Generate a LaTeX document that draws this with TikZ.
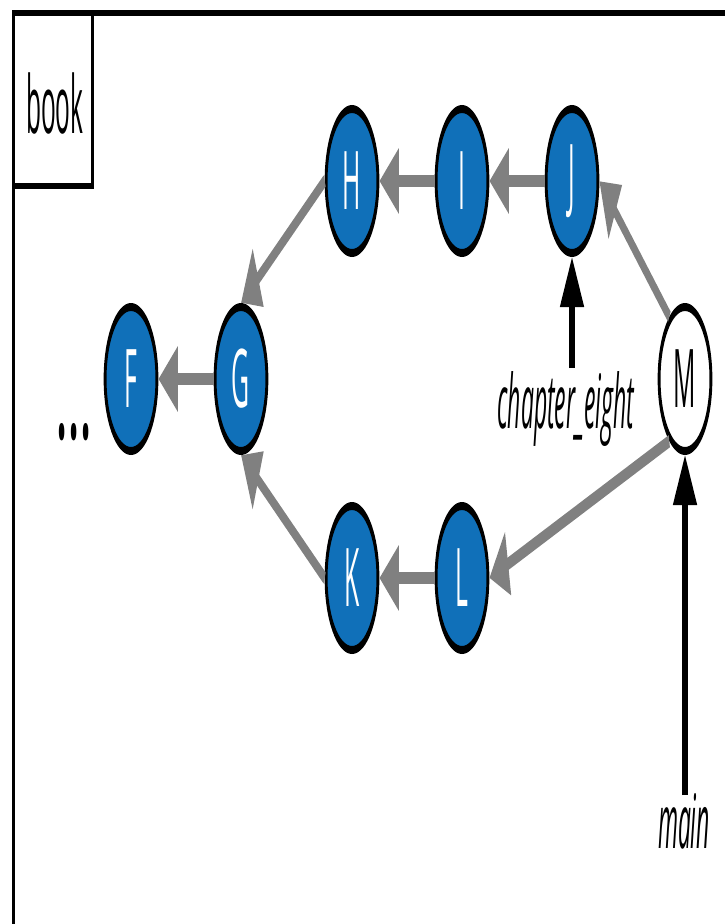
\documentclass[tikz,border=0pt]{standalone}
\usepackage{fontspec}
\setmainfont{Open Sans}[FakeStretch=0.85]
\usetikzlibrary{arrows.meta}
\definecolor{nodeblue}{RGB}{16,112,185}
\definecolor{edgegray}{RGB}{128,128,128}
\tikzset{
  commit/.style={circle, minimum size=144pt, inner sep=0pt, draw=black, line width=8pt,
    fill=nodeblue, text=white, font=\fontsize{81}{81}\selectfont},
  tipcommit/.style={commit, fill=white, text=black},
  parent/.style={draw=edgegray, line width=12.5pt, -{Triangle[length=54pt,width=62pt]}},
  refarrow/.style={draw=black, line width=14pt, -{Triangle[length=50pt,width=64pt]}},
  reflabel/.style={font=\fontsize{75}{75}\selectfont\itshape, anchor=base, inner sep=0pt},
  thickrule/.style={line width=6pt},
  thinrule/.style={line width=3pt}
}
\begin{document}
\begin{tikzpicture}[x=1pt,y=-1pt]
\useasboundingbox (0,0) rectangle (725,924);
% frame
\draw[thickrule] (12,13) -- (725,13);
\draw[thinrule] (13.5,10) -- (13.5,924);
\draw[thinrule] (92.5,13) -- (92.5,189);
\draw[thickrule] (12,186) -- (94,186);
\begin{scope}[transform canvas={xscale=0.36}]
  \node[anchor=base, inner sep=0pt, font=\fontsize{80}{80}\selectfont] (book) at (152,133) {book};
  \node[commit] (F) at (363.9,379) {F};
  \node[commit] (G) at (669.4,379) {G};
  \node[commit] (H) at (977.8,181) {H};
  \node[commit] (I) at (1283.3,181) {I};
  \node[commit] (J) at (1588.9,181) {J};
  \node[commit] (K) at (977.8,578) {K};
  \node[commit] (L) at (1283.3,578) {L};
  \node[tipcommit] (M) at (1902.8,379) {M};
  \node[anchor=base, inner sep=0pt, font=\fontsize{105}{105}\selectfont\bfseries] (dots) at (205.6,439) {.\kern9pt.\kern9pt.};
  \node[reflabel] (ce) at (1572.2,428) {chapter\_eight};
  \node[reflabel] (mainlbl) at (1900,848) {main};
  \coordinate (ceTop) at (1588.9,368);
  \coordinate (mainTop) at (1902.8,795);
  % parent links
  \draw[parent] (J) -- (I);
  \draw[parent] (I) -- (H);
  \draw[parent] (H.west) -- (G.north);
  \draw[parent] (G) -- (F);
  \draw[parent] (K.west) -- (G.south);
  \draw[parent] (L) -- (K);
  \draw[parent] (M.125) -- (J.east);
  \draw[parent] (M.235) -- (L.east);
  % refs
  \draw[refarrow] (ceTop) -- (J.south);
  \draw[refarrow] (mainTop) -- (M.south);
\end{scope}
\end{tikzpicture}
\end{document}
